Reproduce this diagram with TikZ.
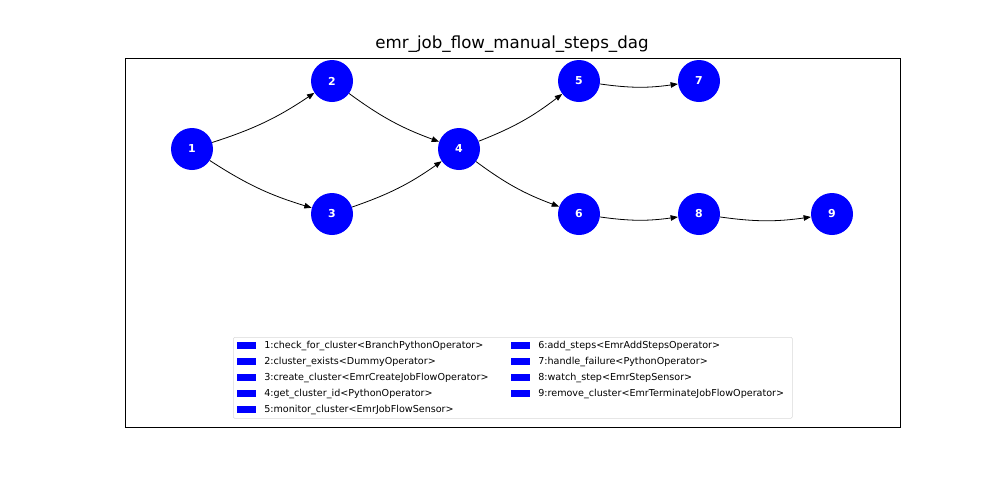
\documentclass[tikz,border=0pt]{standalone}
\usepackage{fontspec}
\setmainfont{DejaVu Sans}
\usetikzlibrary{arrows.meta, positioning}

\tikzset{
  task/.style={circle, fill=blue, minimum size=31.5pt, inner sep=0pt,
    text=white, font=\fontsize{8.2}{9}\selectfont\bfseries},
  flow/.style={-{Triangle[length=5.5pt, width=4.2pt]}, semithick, bend right=8},
  legpatch/.style={fill=blue, minimum width=14pt, minimum height=5.2pt, inner sep=0pt},
  legtext/.style={anchor=west, inner sep=0pt, font=\fontsize{7.2}{8}\selectfont}
}

\begin{document}
\begin{tikzpicture}[x=0.75pt, y=-0.75pt]
  \useasboundingbox (0,0) rectangle (1000,480);

  % axes frame and title
  \node[draw, semithick, minimum width=581.25pt, minimum height=276.75pt, inner sep=0pt,
    anchor=north west] (frame) at (125,58) {};
  \node[font=\fontsize{12.5}{14}\selectfont] (title) at (512,44) {emr\_job\_flow\_manual\_steps\_dag};

  % tasks
  \node[task] (t1) at (192,149) {1};
  \node[task] (t2) at (332,81) {2};
  \node[task] (t3) at (332,214) {3};
  \node[task] (t4) at (459,149) {4};
  \node[task] (t5) at (579,81) {5};
  \node[task] (t6) at (579,214) {6};
  \node[task] (t7) at (699,81) {7};
  \node[task] (t8) at (699,214) {8};
  \node[task] (t9) at (832,214) {9};

  % dependencies
  \draw[flow] (t1) to (t2);
  \draw[flow] (t1) to (t3);
  \draw[flow] (t2) to (t4);
  \draw[flow] (t3) to (t4);
  \draw[flow] (t4) to (t5);
  \draw[flow] (t4) to (t6);
  \draw[flow] (t5) to (t7);
  \draw[flow] (t6) to (t8);
  \draw[flow] (t8) to (t9);

  % legend
  \node[draw=black!15, thin, rounded corners=1pt, minimum width=419.25pt, minimum height=60.75pt,
    inner sep=0pt, anchor=north west] (legend) at (233,337) {};
  \foreach \i/\y/\txt in {1/345.5/1:check\_for\_cluster<BranchPythonOperator>,
                          2/361.5/2:cluster\_exists<DummyOperator>,
                          3/377.5/3:create\_cluster<EmrCreateJobFlowOperator>,
                          4/393.5/4:get\_cluster\_id<PythonOperator>,
                          5/409.5/5:monitor\_cluster<EmrJobFlowSensor>} {
    \node[legpatch] (p\i) at (246.5,\y) {};
    \node[legtext] (l\i) at (264,\y) {\txt};
  }
  \foreach \i/\y/\txt in {6/345.5/6:add\_steps<EmrAddStepsOperator>,
                          7/361.5/7:handle\_failure<PythonOperator>,
                          8/377.5/8:watch\_step<EmrStepSensor>,
                          9/393.5/9:remove\_cluster<EmrTerminateJobFlowOperator>} {
    \node[legpatch] (p\i) at (520.5,\y) {};
    \node[legtext] (l\i) at (538,\y) {\txt};
  }
\end{tikzpicture}
\end{document}
